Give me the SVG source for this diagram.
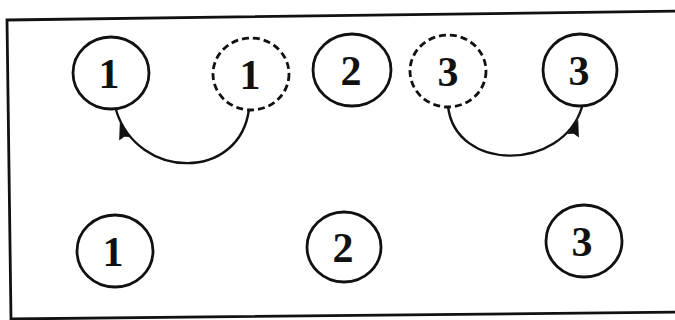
<svg xmlns="http://www.w3.org/2000/svg" width="675" height="320" viewBox="0 0 675 320">
  <style>
    .c { fill: none; stroke: #111; stroke-width: 2.8; }
    .d { stroke-dasharray: 7 4; }
    .t { font-family: "Liberation Serif", "Times New Roman", serif; font-weight: bold; font-size: 42px; fill: #111; text-anchor: middle; }
    .e { fill: none; stroke: #111; stroke-width: 2.4; marker-end: url(#arr); }
  </style>
  <defs>
    <marker id="arr" markerUnits="userSpaceOnUse" markerWidth="18" markerHeight="14" refX="30" refY="6" orient="auto" overflow="visible">
      <path d="M0,0 L17,6 L0,12 L2,6 z" fill="#111"/>
    </marker>
  </defs>
  <rect width="675" height="320" fill="#fff"/>
  <polygon points="7,20 682,11 682,312 11,319" fill="none" stroke="#111" stroke-width="2.8"/>

  <g id="connectors">
    <path class="e" d="M249,109 C240,181 138,181 116,110"/>
    <path class="e" d="M448,106 C455,172 562,172 582,107"/>
  </g>

  <g id="n1a"><ellipse class="c" cx="111" cy="73" rx="38" ry="36"/><text class="t" x="109" y="88">1</text></g>
  <g id="n1b"><ellipse class="c d" cx="251" cy="74" rx="38" ry="36"/><text class="t" x="250" y="89">1</text></g>
  <g id="n2a"><ellipse class="c" cx="352" cy="70" rx="39" ry="36"/><text class="t" x="351" y="85">2</text></g>
  <g id="n3a"><ellipse class="c d" cx="448" cy="71" rx="38" ry="36"/><text class="t" x="448" y="86">3</text></g>
  <g id="n3b"><ellipse class="c" cx="580" cy="70" rx="37" ry="36"/><text class="t" x="579" y="85">3</text></g>

  <g id="n1c"><ellipse class="c" cx="115" cy="251" rx="38" ry="36"/><text class="t" x="113" y="266">1</text></g>
  <g id="n2c"><ellipse class="c" cx="344" cy="247" rx="37" ry="35"/><text class="t" x="343" y="262">2</text></g>
  <g id="n3c"><ellipse class="c" cx="584" cy="241" rx="38" ry="36"/><text class="t" x="582" y="256">3</text></g>
</svg>
